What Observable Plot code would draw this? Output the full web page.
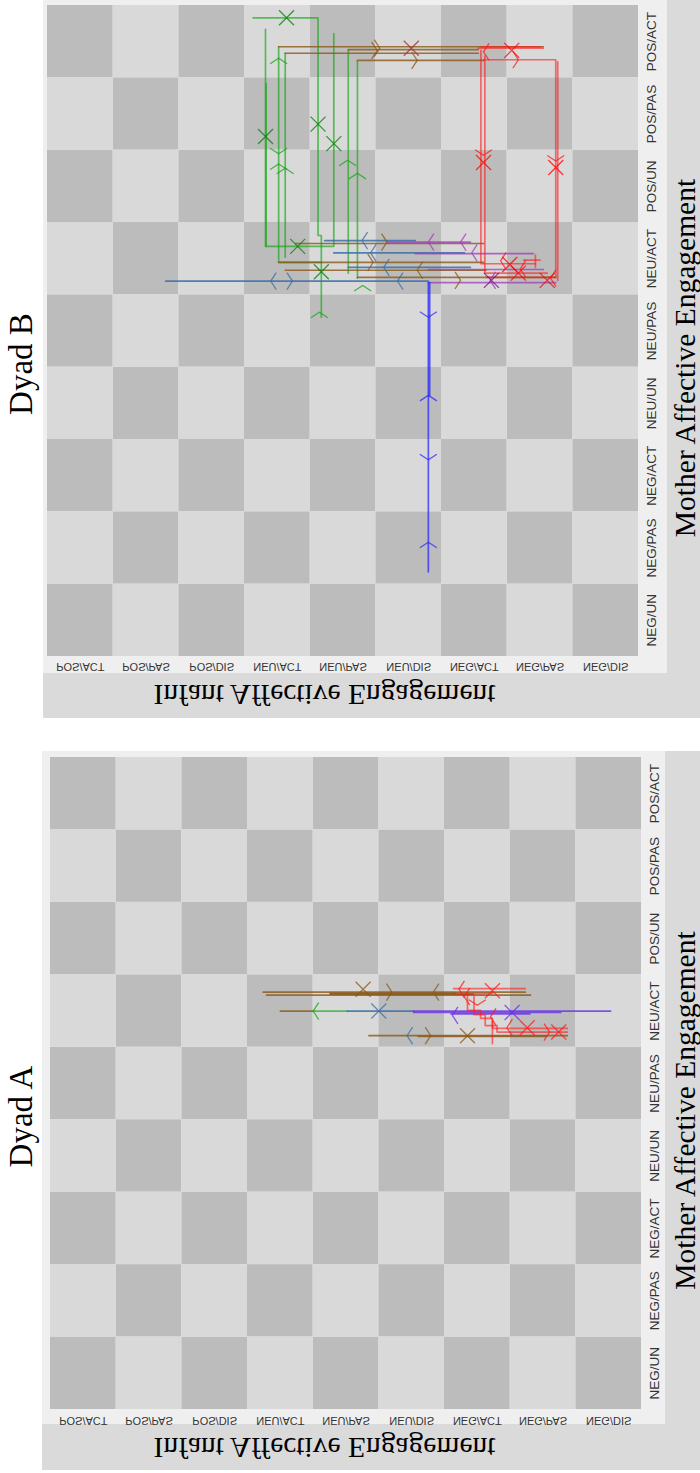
<!DOCTYPE html>
<html><head><meta charset="utf-8">
<script src="https://cdn.jsdelivr.net/npm/d3@7"></script>
<script src="https://cdn.jsdelivr.net/npm/@observablehq/plot@0.6"></script>
<style>
body{margin:0;background:#fff;}
#wrap{position:relative;width:700px;height:1473px;overflow:hidden;}
.outer{position:absolute;background:#dadada;}
.inner{position:absolute;background:#efefef;}
.chart{position:absolute;left:0;}
</style></head><body><div id="wrap">
<div class="outer" style="left:43px;top:0;width:657px;height:718px"></div>
<div class="inner" style="left:43px;top:0;width:624px;height:673px"></div>
<div class="outer" style="left:42px;top:751px;width:658px;height:719px"></div>
<div class="inner" style="left:42px;top:751px;width:623px;height:673px"></div>
</div>
<script>
// ---- categories ----
const motherStates = ["NEG/UN","NEG/PAS","NEG/ACT","NEU/UN","NEU/PAS","NEU/ACT","POS/UN","POS/PAS","POS/ACT"]; // bottom -> top
const infantStates = ["POS/ACT","POS/PAS","POS/DIS","NEU/ACT","NEU/PAS","NEU/DIS","NEG/ACT","NEG/PAS","NEG/DIS"]; // left -> right
const seriesNames = ["green","brown","red","purple","violet","steel","blue"];
const motherTitle = "Mother Affective Engagement";
const infantTitle = "Infant Affective Engagement";

// ---- Dyad B trajectories (x: infant cell units, y: mother cell units) ----
const bGreen = [
  [[3.13,8.83],[4.12,8.83],[4.12,5.82],[4.17,5.82],[4.17,4.69]],
  [[3.32,8.67],[3.32,5.67],[4.36,5.67],[4.36,8.61]],
  [[3.33,7.92],[3.33,5.67]],
  [[3.52,8.43],[3.52,5.45],[4.17,5.45]],
  [[3.62,8.34],[3.62,5.52]],
  [[4.58,8.38],[4.58,5.30]],
  [[4.72,8.23],[4.72,5.23]]
];
const bBrown = [
  [[3.52,8.43],[7.55,8.43]],
  [[4.58,8.39],[6.56,8.39]],
  [[3.62,8.34],[6.56,8.34]],
  [[4.72,8.24],[6.64,8.24]],
  [[3.78,5.71],[6.64,5.71]],
  [[3.52,5.45],[6.64,5.45]],
  [[3.62,5.34],[6.68,5.34]],
  [[4.72,5.24],[7.74,5.24]]
];
const bSteel = [
  [[1.80,5.19],[5.80,5.19]],
  [[4.22,5.75],[5.60,5.75]],
  [[4.36,5.58],[6.35,5.58]],
  [[4.58,5.38],[6.44,5.38]]
];
const bPurple = [
  [[5.17,5.73],[6.44,5.73]],
  [[5.60,5.57],[7.40,5.57]],
  [[5.80,5.35],[7.55,5.35]],
  [[5.80,5.17],[7.74,5.17]]
];
const bRed = [
  [[6.56,8.41],[7.55,8.41]],
  [[6.60,8.43],[7.50,8.43]],
  [[6.64,8.25],[7.74,8.25],[7.74,5.24],[6.68,5.24]],
  [[7.77,8.22],[7.77,5.20]],
  [[6.60,8.38],[6.60,5.43],[7.43,5.43]],
  [[6.66,8.30],[6.66,5.30],[7.61,5.30]],
  [[7.43,5.55],[7.43,5.38]],
  [[7.25,5.48],[7.50,5.48]]
];
const bBlue = [
  [[5.80,5.17],[5.80,1.17]],
  [[5.82,5.17],[5.82,3.61]]
];
const bArrows = [
  [5.80,4.69,"D","blue"],[5.80,3.61,"U","blue"],[5.80,2.72,"D","blue"],[5.80,1.58,"U","blue"],
  [3.40,5.19,"L","steel"],[3.73,5.19,"R","steel"],[5.33,5.19,"L","steel"],[4.79,5.75,"L","steel"],[4.92,5.58,"L","steel"],[5.12,5.38,"L","steel"],
  [3.52,6.81,"U","green"],[3.62,6.75,"U","green"],[3.52,8.27,"U","green"],[4.57,6.86,"U","green"],[4.72,6.68,"U","green"],[4.14,4.76,"U","green"],[4.80,5.13,"U","green"],[3.52,6.95,"D","green"],
  [5.06,8.41,"R","brown"],[5.63,8.24,"R","brown"],[5.02,8.38,"R","brown"],[5.17,5.73,"R","brown"],[4.96,5.45,"R","brown"],[5.63,5.34,"L","brown"],[6.29,5.20,"R","brown"],
  [5.80,5.73,"L","purple"],[6.29,5.73,"L","purple"],[6.46,5.58,"L","purple"],[6.74,5.20,"L","purple"],
  [6.64,8.36,"L","red"],[7.17,8.25,"R","red"],[6.64,6.93,"D","red"],[7.74,6.85,"D","red"],[6.90,5.47,"L","red"],[7.20,5.36,"L","red"],[7.66,5.23,"L","red"]
];
const bCrosses = [
  [3.64,8.83,"green"],[4.12,7.36,"green"],[3.32,7.19,"green"],[4.36,7.09,"green"],[3.81,5.67,"green"],[4.17,5.32,"green"],
  [5.54,8.41,"brown"],
  [7.07,8.38,"red"],[6.64,6.83,"red"],[7.74,6.76,"red"],[7.04,5.42,"red"],[7.17,5.30,"red"],[7.61,5.20,"red"],
  [6.76,5.20,"purple"]
];

// ---- Dyad A trajectories ----
const aBrown = [
  [[3.24,5.76],[7.23,5.76]],
  [[3.29,5.72],[7.31,5.72]],
  [[4.26,5.745],[6.17,5.745]],
  [[4.26,5.735],[6.44,5.735]],
  [[3.50,5.50],[4.00,5.50]],
  [[4.85,5.16],[7.87,5.16]],
  [[5.60,5.15],[7.55,5.15]]
];
const aGreen = [ [[4.00,5.50],[4.52,5.50]] ];
const aSteel = [ [[4.52,5.50],[5.53,5.50]] ];
const aViolet = [
  [[5.53,5.50],[8.53,5.50]],
  [[5.53,5.48],[7.77,5.48]],
  [[6.10,5.46],[7.30,5.46]]
];
const aRed = [
  [[6.14,5.81],[7.23,5.81]],
  [[6.14,5.74],[6.73,5.74]],
  [[6.35,5.74],[6.35,5.51],[6.55,5.51],[6.55,5.40],[6.73,5.40],[6.73,5.26],[7.87,5.26]],
  [[6.45,5.70],[6.45,5.45],[6.62,5.45],[6.62,5.30],[6.80,5.30],[6.80,5.21],[7.87,5.21]],
  [[6.73,5.36],[6.73,5.05]]
];
const aArrows = [
  [5.20,5.76,"R","brown"],[5.83,5.76,"L","brown"],[5.79,5.16,"R","brown"],
  [4.00,5.50,"L","green"],
  [5.43,5.16,"L","steel"],
  [6.12,5.44,"L","violet"],
  [6.22,5.80,"L","red"],[6.50,5.58,"D","red"],[6.70,5.42,"L","red"],[6.95,5.27,"L","red"],[7.60,5.21,"R","red"],[6.30,5.70,"L","red"]
];
const aCrosses = [
  [4.76,5.80,"brown"],[5.00,5.50,"steel"],[6.35,5.16,"brown"],[7.03,5.48,"violet"],
  [6.73,5.78,"red"],[7.26,5.27,"red"],[7.74,5.21,"red"]
];

// ---- styling ----
const seriesColors = ["#14a814","#8a5716","#ff1a1a","#a03cb8","#6a2ee6","#3a6ea8","#2a2aff"];
const seriesOpacity = {green:0.65, brown:0.8, red:0.6, purple:0.75, violet:0.8, steel:0.85, blue:0.75};
const angle = {R:0, L:180, U:-90, D:90};
const chevron = {draw(ctx, size){const s=Math.sqrt(size/Math.PI); ctx.moveTo(-0.65*s,-s); ctx.lineTo(0,0); ctx.lineTo(-0.65*s,s);}};
const crossSym = {draw(ctx, size){const s=Math.sqrt(size/Math.PI); ctx.moveTo(-s,-s); ctx.lineTo(s,s); ctx.moveTo(-s,s); ctx.lineTo(s,-s);}};
const cells = d3.cross(d3.range(9), d3.range(9), (i,j)=>({i,j}));

function toRows(groups){
  const rows=[]; let id=0;
  for (const [series, paths] of groups) for (const p of paths){ id++; for (const [x,y] of p) rows.push({id, series, x, y}); }
  return rows;
}
function mirrorGroup(g){
  if (!g) return;
  g.querySelectorAll("text").forEach(t=>{
    let tr = t.getAttribute("transform");
    if(!tr){ const x=t.getAttribute("x")||0, y=t.getAttribute("y")||0; t.removeAttribute("x"); t.removeAttribute("y"); tr=`translate(${x},${y})`; }
    t.setAttribute("transform", tr+" scale(1,-1)");
  });
}

function panel(cfg){
  const rows = toRows(cfg.groups);
  const arrows = cfg.arrows.map(([x,y,dir,series])=>({x,y,dir,series}));
  const crosses = cfg.crosses.map(([x,y,series])=>({x,y,series}));
  const serif = "Liberation Serif, Times New Roman, serif";
  const sans = "Liberation Sans, Arial, sans-serif";
  const chart = Plot.plot({
    width: 700, height: cfg.height,
    marginLeft: cfg.ml, marginRight: cfg.mr, marginTop: cfg.mt, marginBottom: cfg.mb,
    x: {domain:[0,9], axis:null},
    y: {domain:[0,9], axis:null},
    color: {type:"ordinal", domain: seriesNames, range: seriesColors},
    style: {background:"transparent", overflow:"visible"},
    marks: [
      Plot.rect(cells.filter(d=>(d.i+d.j)%2===0), {x1:d=>d.i, x2:d=>d.i+1, y1:d=>d.j, y2:d=>d.j+1, fill:"#bcbcbc"}),
      Plot.rect(cells.filter(d=>(d.i+d.j)%2===1), {x1:d=>d.i, x2:d=>d.i+1, y1:d=>d.j, y2:d=>d.j+1, fill:"#d9d9d9"}),
      Plot.line(rows, {x:"x", y:"y", z:"id", stroke:"series", strokeOpacity:d=>seriesOpacity[d.series], strokeWidth:1.7, curve:"linear"}),
      Plot.dot(arrows, {x:"x", y:"y", stroke:"series", fill:"none", symbol:chevron, r:8.5, rotate:d=>angle[d.dir], strokeWidth:1.3, strokeOpacity:0.75}),
      Plot.dot(crosses, {x:"x", y:"y", stroke:"series", fill:"none", symbol:crossSym, r:7.5, strokeWidth:1.3, strokeOpacity:0.75}),
      Plot.text(motherStates, {y:(d,i)=>i+0.5, text:d=>d, frameAnchor:"right", textAnchor:"middle", lineAnchor:"middle", dx:13, rotate:-90, fontSize:13.5, fill:"#333", fontFamily:sans}),
      Plot.text(infantStates, {x:(d,i)=>i+0.5, text:d=>d, frameAnchor:"bottom", textAnchor:"middle", lineAnchor:"middle", dy:cfg.tickDy, fontSize:11, fill:"#333", fontFamily:sans}),
      Plot.text([motherTitle], {text:d=>d, frameAnchor:"right", textAnchor:"middle", lineAnchor:"middle", dx:cfg.mdx, dy:27, rotate:-90, fontSize:29.5, fontFamily:serif}),
      Plot.text([infantTitle], {text:d=>d, frameAnchor:"bottom", textAnchor:"middle", lineAnchor:"middle", dx:cfg.idx, dy:38, fontSize:29.5, fontFamily:serif}),
      Plot.text([cfg.title], {text:d=>d, frameAnchor:"left", textAnchor:"middle", lineAnchor:"middle", dx:cfg.tdx, dy:cfg.tdy, rotate:-90, fontSize:33, fontFamily:serif})
    ]
  });
  const textGroups = chart.querySelectorAll('g[aria-label="text"]');
  mirrorGroup(textGroups[1]);
  mirrorGroup(textGroups[3]);
  chart.classList.add("chart");
  chart.style.position = "absolute";
  chart.style.top = cfg.top + "px";
  chart.style.left = "0px";
  document.getElementById("wrap").appendChild(chart);
}

panel({title:"Dyad B", top:0, height:730, ml:47, mr:62, mt:5, mb:74, tickDy:10, mdx:47, idx:-18.5, tdx:-26, tdy:33,
  groups:[["green",bGreen],["brown",bBrown],["steel",bSteel],["purple",bPurple],["red",bRed],["blue",bBlue]],
  arrows:bArrows, crosses:bCrosses});
panel({title:"Dyad A", top:740, height:733, ml:50, mr:59, mt:17, mb:64, tickDy:11, mdx:44, idx:-21.5, tdx:-29, tdy:33,
  groups:[["brown",aBrown],["green",aGreen],["steel",aSteel],["violet",aViolet],["red",aRed]],
  arrows:aArrows, crosses:aCrosses});
</script>
</body></html>
